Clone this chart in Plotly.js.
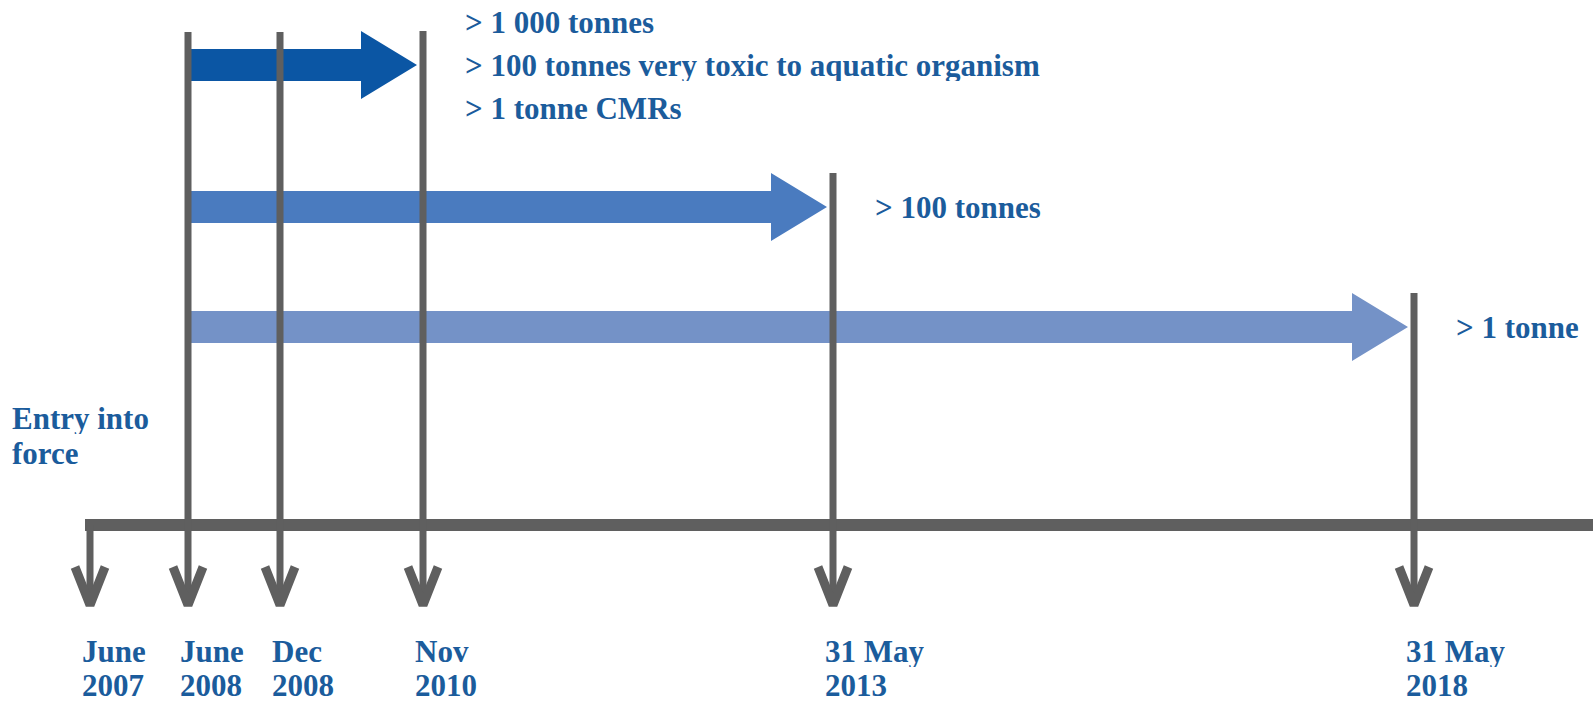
<!DOCTYPE html>
<html>
<head>
<meta charset="utf-8">
<script src="https://cdn.plot.ly/plotly-3.0.1.min.js"></script>
<style>
html,body{margin:0;padding:0;background:#fff;}
#chart{width:1593px;height:701px;}
</style>
</head>
<body>
<div id="chart"></div>
<script>
// ---- Data ----
const milestoneMonth = ['June', 'June', 'Dec', 'Nov', '31 May', '31 May'];
const milestoneYear  = ['2007', '2008', '2008', '2010', '2013', '2018'];
// schematic position of each milestone along the timeline (diagram units)
const milestonePos   = [90, 188, 280, 423, 833, 1414];

const entryLabel = ['Entry into', 'force'];
const startIdx = 1; // registration phase starts June 2008

const tierLines = [
  ['> 1 000 tonnes', '> 100 tonnes very toxic to aquatic organism', '> 1 tonne CMRs'],
  ['> 100 tonnes'],
  ['> 1 tonne']
];
const tierDeadlineIdx = [3, 4, 5];
const tierRow = [65, 207, 327];
const tierColors = ['#0b56a4', '#4a7bbf', '#7492c7'];

// extra top-reaching markers (June 2008, Dec 2008)
const fullHeightIdx = [1, 2];

// ---- Style ----
const gray = '#5f5f5f';
const textBlue = '#1b5c9c';
const fontFam = '"Liberation Serif", "DejaVu Serif", serif';
const fs = 31;
const axisY = 525;
const topY = 32;
const bodyHalf = 16, headHalf = 34, headLen = 56, tipGap = 6;
const lineSpacingTop = 43;

const traces = [];
// big arrows
tierRow.forEach((cy, i) => {
  const x0 = milestonePos[startIdx] + 3;
  const tip = milestonePos[tierDeadlineIdx[i]] - tipGap;
  const hs = tip - headLen;
  traces.push({
    type: 'scatter', mode: 'lines', fill: 'toself',
    x: [x0, hs, hs, tip, hs, hs, x0, x0],
    y: [cy - bodyHalf, cy - bodyHalf, cy - headHalf, cy, cy + headHalf, cy + bodyHalf, cy + bodyHalf, cy - bodyHalf],
    line: {width: 0, color: tierColors[i]}, fillcolor: tierColors[i],
    hoverinfo: 'skip', showlegend: false
  });
});
// horizontal timeline
traces.push({
  type: 'scatter', mode: 'lines',
  x: [milestonePos[0] - 5, 1600], y: [axisY, axisY],
  line: {color: gray, width: 12}, hoverinfo: 'skip', showlegend: false
});
// vertical marker lines up from the axis
fullHeightIdx.forEach(k => {
  traces.push({type: 'scatter', mode: 'lines', x: [milestonePos[k], milestonePos[k]], y: [topY, axisY],
    line: {color: gray, width: 7}, hoverinfo: 'skip', showlegend: false});
});
tierDeadlineIdx.forEach((k, i) => {
  traces.push({type: 'scatter', mode: 'lines', x: [milestonePos[k], milestonePos[k]], y: [tierRow[i] - headHalf, axisY],
    line: {color: gray, width: 7}, hoverinfo: 'skip', showlegend: false});
});
// down arrows
milestonePos.forEach(px => {
  traces.push({type: 'scatter', mode: 'lines', x: [px, px], y: [axisY, 604],
    line: {color: gray, width: 7}, hoverinfo: 'skip', showlegend: false});
  traces.push({type: 'scatter', mode: 'lines', x: [px - 15, px, px + 15], y: [567, 605, 567],
    line: {color: gray, width: 9}, hoverinfo: 'skip', showlegend: false});
});

const annotations = [];
const txt = (text, x, y) => ({
  text, x, y, xref: 'x', yref: 'y', xanchor: 'left', yanchor: 'middle', showarrow: false,
  height: 32, valign: 'middle',
  font: {family: fontFam, size: fs, color: textBlue, weight: 'bold'}
});
milestonePos.forEach((px, i) => {
  annotations.push(txt(milestoneMonth[i], px - 10, 651));
  annotations.push(txt(milestoneYear[i], px - 10, 685));
});
entryLabel.forEach((t, i) => annotations.push(txt(t, 10, 418 + i * 35)));
tierLines.forEach((lines, i) => {
  const xT = milestonePos[tierDeadlineIdx[i]] + 40;
  const n = lines.length;
  lines.forEach((t, j) => {
    annotations.push(txt(t, xT, tierRow[i] + (j - (n - 1) / 2) * lineSpacingTop));
  });
});

const layout = {
  width: 1593, height: 701,
  margin: {l: 0, r: 0, t: 0, b: 0},
  paper_bgcolor: '#fff', plot_bgcolor: '#fff',
  xaxis: {range: [0, 1593], visible: false, fixedrange: true},
  yaxis: {range: [701, 0], visible: false, fixedrange: true},
  showlegend: false,
  annotations
};
Plotly.newPlot('chart', traces, layout, {staticPlot: true, displayModeBar: false});
</script>
</body>
</html>
